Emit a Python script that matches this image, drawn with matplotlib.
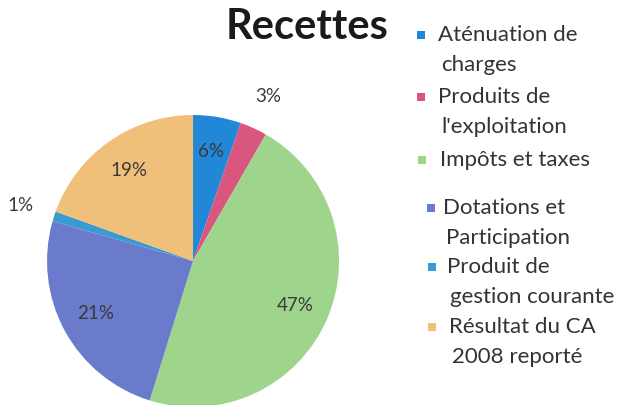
import matplotlib.pyplot as plt
from matplotlib.patches import Rectangle
import numpy as np

# slices clockwise from 12 o'clock
categories = ["Aténuation de\ncharges", "Produits de\nl'exploitation", "Impôts et taxes",
              "Dotations et\nParticipation", "Produit de\ngestion courante", "Résultat du CA\n2008 reporté"]
values = [5.3, 3.0, 46.5, 24.6, 1.1, 19.5]
pct_labels = ["6%", "3%", "47%", "21%", "1%", "19%"]
outside = [False, True, False, False, True, False]
colors = ["#2187d6", "#d9567f", "#9fd48c", "#6b7bcb", "#3a9bd0", "#f0bf79"]

plt.rcParams['font.family'] = ['Lato', 'DejaVu Sans']

fig = plt.figure(figsize=(6.35, 4.05), dpi=100)
ax = fig.add_axes([0.074, -0.005, 0.46, 0.721])
wedges, _ = ax.pie(values, colors=colors, startangle=90, counterclock=False,
                   wedgeprops=dict(linewidth=0))
ax.set_xlim(-1, 1)
ax.set_ylim(-1, 1)
ax.set_aspect('equal')
ax.axis('off')

for w, lab, out in zip(wedges, pct_labels, outside):
    mid = np.deg2rad((w.theta1 + w.theta2) / 2)
    r = 1.24 if out else 0.76
    ax.text(r * np.cos(mid), r * np.sin(mid), lab, ha='center', va='center',
            fontsize=13.5, color='#3a3a3a', clip_on=False)

fig.text(307 / 635, 1 - 27 / 405, "Recettes", ha='center', va='center',
         fontsize=30, fontweight='bold', color='#1a1a1a')

# legend drawn by hand, marker on first line like the original
W, H = 635, 405
entry_y = [35, 97, 160, 208, 267, 327]
marker_x = [417, 417, 418, 427, 428, 428]
text_x = [438, 438, 440, 443, 447, 449]
for i, lab in enumerate(categories):
    y = entry_y[i]
    fig.add_artist(Rectangle((marker_x[i] / W, 1 - (y + 4) / H), 8 / W, 8 / H,
                             transform=fig.transFigure, color=colors[i], lw=0))
    lines = lab.split("\n")
    for j, line in enumerate(lines):
        fig.text((text_x[i] + (3 if j else 0)) / W, 1 - (y + 30 * j) / H, line,
                 ha='left', va='center', fontsize=16, color='#333333')

fig.savefig("out.png", dpi=100)
